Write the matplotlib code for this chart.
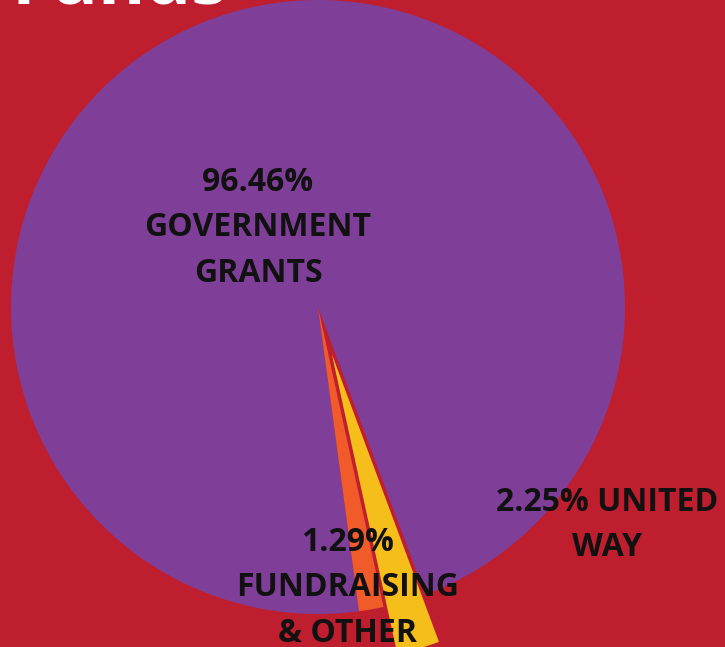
import matplotlib.pyplot as plt

# funding sources (percent of total)
sources = ["GOVERNMENT\nGRANTS", "FUNDRAISING\n& OTHER", "UNITED\nWAY"]
shares = [96.46, 1.29, 2.25]
colors = ["#7F3F98", "#F15A29", "#F6BE1A"]
bg = "#BE1E2D"

fig = plt.figure(figsize=(7.25, 6.47), dpi=100)
fig.patch.set_facecolor(bg)
ax = fig.add_axes([0, 0, 1, 1])
ax.set_facecolor(bg)

# put the small slices at the bottom of the pie
total = sum(shares)
orange_mid = 280
start = orange_mid - 360 * (shares[0] + shares[1] / 2) / total
r = 307

# explode is given in data units here, not as a fraction
ax.pie(shares, colors=colors, startangle=start, counterclock=True,
       center=(318, 340), radius=r, explode=[0, 0, 0.16 * r],
       wedgeprops={"linewidth": 0})
ax.set_xlim(0, 725)
ax.set_ylim(0, 647)
ax.set_aspect("equal")
ax.axis("off")

font = dict(family="Open Sans", weight="bold", color="#111111",
            ha="center", va="center", fontsize=23, linespacing=1.5)

ax.text(258, 419, "%.2f%%\n%s" % (shares[0], sources[0]), **font)
ax.text(348, 59, "%.2f%%\n%s" % (shares[1], sources[1]), **font)
ax.text(607, 122, "%.2f%% %s" % (shares[2], sources[2]), **font)

# heading, mostly above the top edge
ax.text(12, 644, "Funds", family="Open Sans", weight="bold", color="white",
        fontsize=52, ha="left", va="baseline")

fig.savefig("out.png", dpi=100, facecolor=bg)
